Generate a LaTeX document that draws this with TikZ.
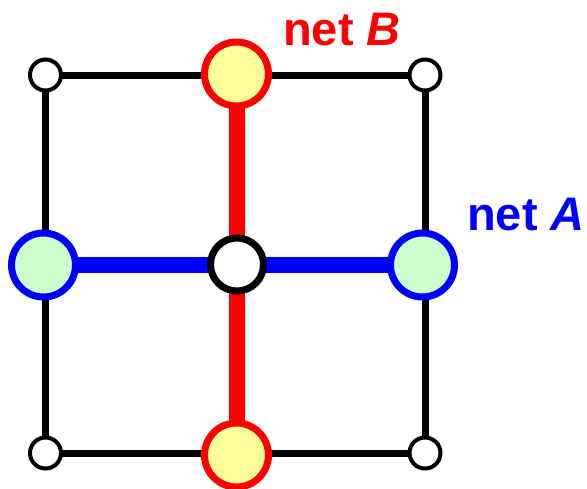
\documentclass[tikz,border=0pt]{standalone}
\usepackage{fontspec}
\setmainfont{Liberation Sans}
\begin{document}
\begin{tikzpicture}[x=1pt,y=-1pt,
  gridline/.style={line width=7pt,black},
  netB/.style={line width=16pt,red},
  netA/.style={line width=16pt,blue},
  corner/.style={circle,draw=black,line width=4pt,fill=white,minimum size=31pt,inner sep=0pt},
  ynode/.style={circle,draw=red,line width=7pt,fill=yfill,minimum size=64pt,inner sep=0pt},
  gnode/.style={circle,draw=blue,line width=7pt,fill=gfill,minimum size=64pt,inner sep=0pt},
  cnode/.style={circle,draw=black,line width=7pt,fill=white,minimum size=53pt,inner sep=0pt},
  lbl/.style={font=\fontsize{47}{50}\selectfont\bfseries,anchor=base west,inner sep=0pt}
]
\definecolor{yfill}{HTML}{FFFF99}
\definecolor{gfill}{HTML}{CCFFCC}
\useasboundingbox (0,0) rectangle (587,488);
\coordinate (tl) at (45.5,75);
\coordinate (tr) at (425,75);
\coordinate (bl) at (45.5,453);
\coordinate (br) at (425,453);
\draw[gridline] (tl) -- (tr) -- (br) -- (bl) -- cycle;
\coordinate (yt) at (236.5,74);
\coordinate (yb) at (236.5,455);
\coordinate (gl) at (43.5,265);
\coordinate (gr) at (422.5,265);
\coordinate (cc) at (237,264.5);
\draw[netB] (yt) -- (yb);
\draw[netA] (gl) -- (gr);
\node[corner] (ntl) at (tl) {};
\node[corner] (ntr) at (tr) {};
\node[corner] (nbl) at (bl) {};
\node[corner] (nbr) at (br) {};
\node[ynode] (nyt) at (yt) {};
\node[ynode] (nyb) at (yb) {};
\node[gnode] (ngl) at (gl) {};
\node[gnode] (ngr) at (gr) {};
\node[cnode] (ncc) at (cc) {};
\node[lbl,text=red] (lb) at (283,45) {net \textit{B}};
\node[lbl,text=blue] (la) at (467,230) {net \textit{A}};
\end{tikzpicture}
\end{document}
